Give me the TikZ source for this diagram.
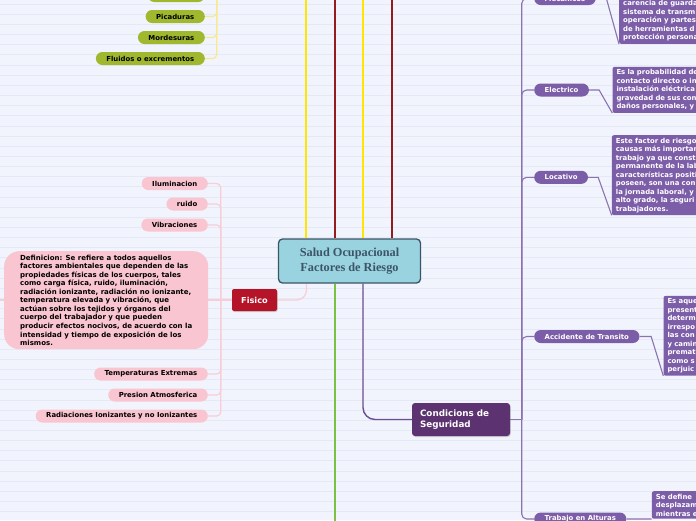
\documentclass[tikz,border=0pt]{standalone}
\usepackage{fontspec}
\setmainfont{DejaVu Sans}
\newfontfamily\titlefont{Liberation Serif}
\usetikzlibrary{shadows}
\definecolor{bgcol}{HTML}{F1F4FC}
\definecolor{gridcol}{HTML}{E5E9F5}
\definecolor{pinkfill}{HTML}{F9C5D0}
\definecolor{pinkline}{HTML}{F8CDD6}
\definecolor{crimson}{HTML}{B41328}
\definecolor{olive}{HTML}{9FB82E}
\definecolor{paleyellow}{HTML}{F7E98E}
\definecolor{centerfill}{HTML}{9AD3E0}
\definecolor{centerdraw}{HTML}{3B5566}
\definecolor{bigyellow}{HTML}{FFE500}
\definecolor{bigred}{HTML}{951B1E}
\definecolor{biggreen}{HTML}{7DC143}
\definecolor{darkpurple}{HTML}{5C3370}
\definecolor{purpleline}{HTML}{6E4E90}
\definecolor{pillpurple}{HTML}{7C5DA8}
\definecolor{lightpurpleline}{HTML}{8B72B0}
\pgfdeclarelayer{bglayer}
\pgfdeclarelayer{edgelayer}
\pgfsetlayers{bglayer,edgelayer,main}
\tikzset{
  pilltext/.style={font=\fontsize{6.9}{8}\selectfont\bfseries},
  pinkpill/.style={pilltext, fill=pinkfill, rounded corners=6.5pt, minimum height=13pt, inner xsep=10.5pt, inner ysep=0pt, text=black, anchor=east},
  olivepill/.style={pilltext, fill=olive, rounded corners=6.5pt, minimum height=13pt, inner xsep=10.5pt, inner ysep=0pt, text=black, anchor=east},
  purplepill/.style={pilltext, fill=pillpurple, rounded corners=6.5pt, minimum height=13pt, inner xsep=10.5pt, inner ysep=0pt, text=white, anchor=west},
  descbox/.style={font=\fontsize{6.9}{8.5}\selectfont\bfseries, fill=pillpurple, rounded corners=2pt, text=white, align=left, text width=150pt, inner xsep=4pt, inner ysep=2.6pt},
  pinkconn/.style={draw=pinkline, line width=1.2pt},
  yellowconn/.style={draw=paleyellow, line width=1.2pt},
  rconn/.style={draw=lightpurpleline, line width=1.1pt},
  bigyel/.style={draw=bigyellow, line width=2.2pt},
  bigred/.style={draw=bigred, line width=2.4pt},
  biggrn/.style={draw=biggreen, line width=2.2pt},
  purpconn/.style={draw=purpleline, line width=1.4pt},
}
\begin{document}
\begin{tikzpicture}[x=1pt,y=-1pt]
\useasboundingbox (0,0) rectangle (696,520);
\clip (0,0) rectangle (696,520);
\begin{pgfonlayer}{bglayer}
\fill[bgcol] (0,0) rectangle (696,520);
\foreach \i in {0,...,51} \draw[gridcol, line width=0.6pt] (0,4+\i*10.15) -- (696,4+\i*10.15);
\end{pgfonlayer}

% center
\node[draw=centerdraw, line width=1.3pt, fill=centerfill, rounded corners=4pt, minimum width=142pt, minimum height=44pt, align=center, text=centerdraw, font=\titlefont\fontsize{12.3}{14.3}\selectfont\bfseries] (center) at (349.5,261) {Salud Ocupacional\\Factores de Riesgo};

% Fisico branch
\node[fill=crimson, rounded corners=2pt, minimum width=45pt, minimum height=22pt, inner sep=0pt, text=white, font=\fontsize{8.2}{9}\selectfont\bfseries, drop shadow={shadow xshift=0.8pt, shadow yshift=-1pt, opacity=0.3}] (fisico) at (254.5,300) {Fisico};
\node[pinkpill] (ilum) at (208,183.5) {Iluminacion};
\node[pinkpill] (ruido) at (208,204) {ruido};
\node[pinkpill] (vib) at (208,225) {Vibraciones};
\node[fill=pinkfill, rounded corners=15pt, minimum width=204pt, minimum height=98pt, anchor=north west, align=left, inner xsep=6pt, font=\fontsize{7}{8.55}\selectfont\bfseries, text=black] (defi) at (4,251) {Definicion: Se refiere a todos aquellos\\factores ambientales que dependen de las\\propiedades físicas de los cuerpos, tales\\como carga física, ruido, iluminación,\\radiación ionizante, radiación no ionizante,\\temperatura elevada y vibración, que\\actúan sobre los tejidos y órganos del\\cuerpo del trabajador y que pueden\\producir efectos nocivos, de acuerdo con la\\intensidad y tiempo de exposición de los\\mismos.};
\node[pinkpill] (temp) at (208,374) {Temperaturas Extremas};
\node[pinkpill] (pres) at (208,395) {Presion Atmosferica};
\node[pinkpill] (rad) at (208,416) {Radiaciones Ionizantes y no Ionizantes};

% olive branch (top)
\node[olivepill, minimum width=57pt] (oltop) at (205,-4.5) {};
\node[olivepill] (pic) at (205,16.5) {Picaduras};
\node[olivepill] (mord) at (205,37.5) {Mordesuras};
\node[olivepill] (flu) at (205,58.5) {Fluidos o excrementos};

% Condicions de Seguridad branch
\node[fill=darkpurple, rounded corners=3pt, minimum height=33pt, text width=82pt, inner xsep=8pt, align=left, text=white, font=\fontsize{8.8}{10.7}\selectfont\bfseries, drop shadow={shadow xshift=0.8pt, shadow yshift=-1pt, opacity=0.3}] (cond) at (461,419.5) {Condicions de\\Seguridad};
\node[purplepill] (mec) at (534,-1.5) {Mecanicos};
\node[purplepill] (elec) at (534,90) {Electrico};
\node[purplepill] (loc) at (534,177.3) {Locativo};
\node[purplepill] (acc) at (534,336.5) {Accidente de Transito};
\node[purplepill] (tra) at (534,519) {Trabajo en Alturas};

\node[descbox, anchor=south west] (mecd) at (619,44) {carencia de guarda\\sistema de transm\\operación y partes\\de herramientas d\\protección persona};
\node[descbox, anchor=north west] (elecd) at (612.3,66.7) {Es la probabilidad de\\contacto directo o in\\instalación eléctrica\\gravedad de sus con\\daños personales, y};
\node[descbox, anchor=north west] (locd) at (611.7,135) {Este factor de riesgo\\causas más importan\\trabajo ya que const\\permanente de la lab\\características positi\\poseen, son una con\\la jornada laboral, y\\alto grado, la seguri\\trabajadores.};
\node[descbox, anchor=north west] (accd) at (663.3,295.7) {Es aque\\present\\determ\\irrespo\\las con\\y camin\\premat\\como s\\perjuic};
\node[descbox, anchor=north west] (trad) at (651.7,491) {Se define\\desplazam\\mientras e};

% connectors
\begin{pgfonlayer}{edgelayer}
\coordinate (ya) at (306,-5);
\coordinate (ra) at (335,-5);
\coordinate (yb) at (363,-5);
\coordinate (rb) at (392,-5);
\draw[bigyel] (ya) -- (ya |- center.north);
\draw[bigred] (ra) -- (ra |- center.north);
\draw[bigyel] (yb) -- (yb |- center.north);
\draw[bigred] (rb) -- (rb |- center.north);
\coordinate (gb) at (335,525);
\draw[biggrn] (center.south -| gb) -- (gb);
\coordinate (pb) at (363,0);
\draw[purpconn, rounded corners=12pt] (center.south -| pb) |- (cond.west);
\coordinate (fx) at (306.5,0);
\draw[pinkconn, rounded corners=10pt] (center.south -| fx) |- (fisico.east);
% pink list
\coordinate (pj) at (220.7,300);
\coordinate (pleft) at (0,300);
\draw[pinkconn] (fisico.west) -- (pleft);
\foreach \n in {ilum,ruido,vib,temp,pres,rad}
  \draw[pinkconn, rounded corners=4pt] (\n.east) -| (pj);
% olive list
\coordinate (oj) at (216.7,-40);
\foreach \n in {oltop,pic,mord,flu}
  \draw[yellowconn, rounded corners=4pt] (\n.east) -| (oj);
% right list
\coordinate (rj) at (521.7,419.5);
\draw[rconn] (cond.east) -- (rj);
\foreach \n in {mec,elec,loc,acc,tra}
  \draw[rconn, rounded corners=5pt] (\n.west) -| (rj);
\draw[rconn] (mec.east) -- ++(10.5,0) -- (mecd.south west);
\draw[rconn] (elec.east) -- ++(10,0) -- (elecd.south west);
\draw[rconn] (loc.east) -- ++(10,0) -- (locd.south west);
\draw[rconn] (acc.east) -- ++(11.5,0) -- (accd.south west);
\draw[rconn] (tra.east) -- ++(10,0) -- (trad.south west);
\end{pgfonlayer}
\end{tikzpicture}
\end{document}
